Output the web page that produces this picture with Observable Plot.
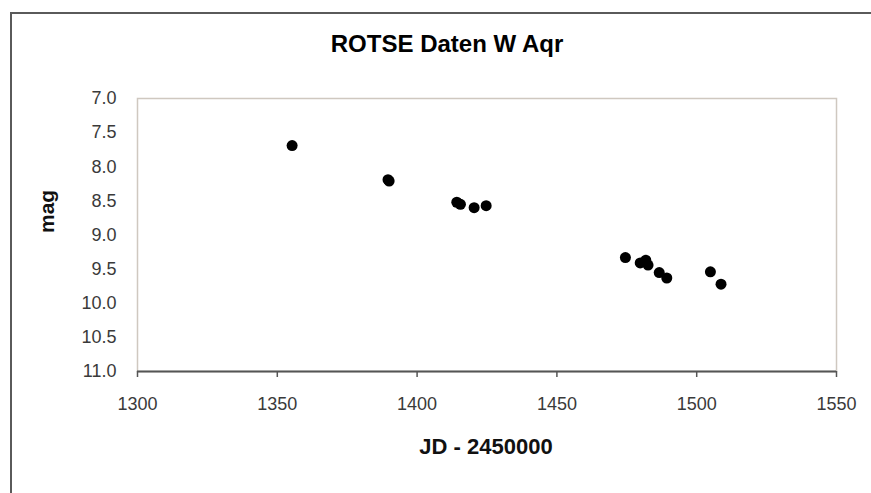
<!DOCTYPE html>
<html>
<head>
<meta charset="utf-8">
<script src="https://cdn.jsdelivr.net/npm/d3@7"></script>
<script src="https://cdn.jsdelivr.net/npm/@observablehq/plot@0.6"></script>
<style>
  html, body { margin: 0; padding: 0; background: #fff; }
  #wrap { position: relative; width: 871px; height: 493px; overflow: hidden; }
  #border { position: absolute; left: 10px; top: 12px; width: 900px; height: 520px;
            border-top: 2px solid #5a5a5a; border-left: 2px solid #5a5a5a; pointer-events: none; }
</style>
</head>
<body>
<div id="wrap"><div id="border"></div></div>
<script>
const title = "ROTSE Daten W Aqr";
const xLabel = "JD - 2450000";
const yLabel = "mag";
const xTicks = [1300, 1350, 1400, 1450, 1500, 1550];
const yTicks = [7.0, 7.5, 8.0, 8.5, 9.0, 9.5, 10.0, 10.5, 11.0];
const jd  = [1355.3, 1389.6, 1390.0, 1414.2, 1415.5, 1420.4, 1424.7, 1474.5, 1479.8, 1481.8, 1482.6, 1486.6, 1489.3, 1504.9, 1508.7];
const mag = [7.69,   8.19,   8.21,   8.52,   8.55,   8.60,   8.57,   9.33,   9.41,   9.37,   9.44,   9.55,   9.63,   9.54,   9.72];

const data = jd.map((x, i) => ({jd: x, mag: mag[i]}));

const chart = Plot.plot({
  width: 871,
  height: 493,
  marginLeft: 137,
  marginRight: 35,
  marginTop: 98,
  marginBottom: 122,
  style: {fontFamily: "'Liberation Sans', Arial, sans-serif", fontSize: "18px", background: "transparent", overflow: "visible"},
  x: {domain: [1300, 1550]},
  y: {domain: [7, 11], reverse: true},
  marks: [
    Plot.frame({stroke: "#cfc8c0", strokeWidth: 1.5}),
    Plot.axisY({ticks: yTicks, tickFormat: d => d.toFixed(1), tickSize: 0, tickPadding: 21, color: "#3a3a3a", label: null}),
    Plot.axisX({ticks: xTicks, tickFormat: d => String(d), tickSize: 6, tickPadding: 20, color: "#3a3a3a", stroke: "#555", strokeWidth: 1.5, label: null}),
    Plot.ruleY([11], {stroke: "#555", strokeWidth: 2}),
    Plot.dot(data, {x: "jd", y: "mag", r: 5.5, fill: "#000", stroke: "none"}),
    Plot.text([title], {frameAnchor: "top", dx: -40, dy: -54, lineAnchor: "middle", fontWeight: "bold", fontSize: 24, fill: "#000", style: "letter-spacing:0.4px"}),
    Plot.text([xLabel], {frameAnchor: "bottom", dx: -1, dy: 75, lineAnchor: "middle", fontWeight: "bold", fontSize: 22, fill: "#111"}),
    Plot.text([yLabel], {frameAnchor: "left", dx: -90, dy: -2, rotate: -90, lineAnchor: "middle", fontWeight: "bold", fontSize: 21, fill: "#111"})
  ]
});
document.getElementById("wrap").prepend(chart);
</script>
</body>
</html>
